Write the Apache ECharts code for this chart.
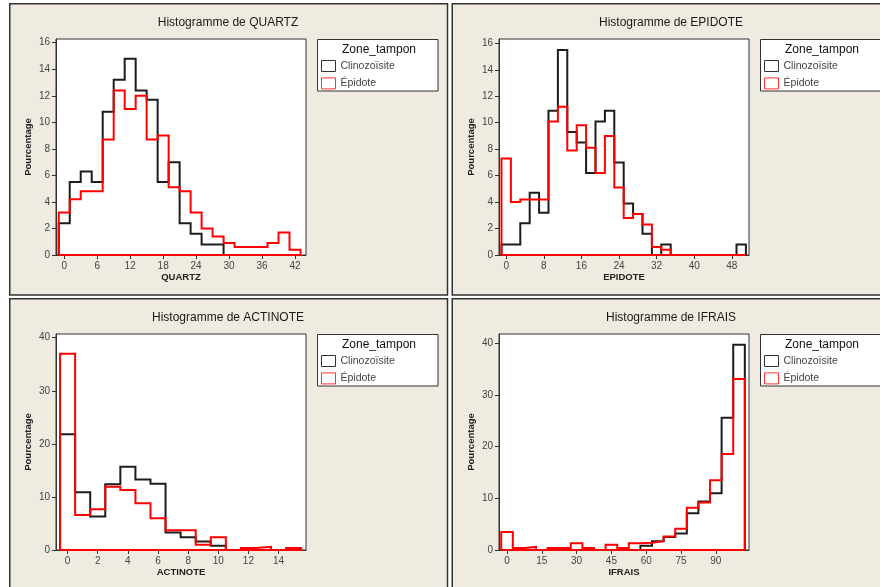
<!DOCTYPE html>
<html>
<head>
<meta charset="utf-8">
<script src="https://cdn.jsdelivr.net/npm/echarts@6/dist/echarts.min.js"></script>
<style>
  html, body { margin: 0; padding: 0; background: #ffffff; }
  #chart { width: 880px; height: 587px; }
</style>
</head>
<body>
<div id="chart"></div>
<script>
// Zone names (legend entries)
const zoneNames = ['Clinozoïsite', 'Épidote'];
const legendTitle = 'Zone_tampon';

// QUARTZ: bin centres (width 2) and percentages per zone
const quartzCenters = [0, 2, 4, 6, 8, 10, 12, 14, 16, 18, 20, 22, 24, 26, 28, 30, 32, 34, 36, 38, 40, 42];
const quartzClino = [2.4, 5.5, 6.3, 5.5, 10.8, 13.2, 14.8, 12.4, 11.7, 5.5, 7.0, 2.4, 1.6, 0.8, 0.8, 0, 0, 0, 0, 0, 0, 0];
const quartzEpi = [3.2, 4.2, 4.8, 4.8, 8.7, 12.4, 11.0, 12.0, 8.7, 9.0, 5.1, 4.8, 3.2, 2.0, 1.4, 0.9, 0.6, 0.6, 0.6, 0.9, 1.7, 0.4];
const quartzXTicks = [0, 6, 12, 18, 24, 30, 36, 42];
const quartzYTicks = [0, 2, 4, 6, 8, 10, 12, 14, 16];

// EPIDOTE: bin centres (width 2)
const epidoteCenters = [0, 2, 4, 6, 8, 10, 12, 14, 16, 18, 20, 22, 24, 26, 28, 30, 32, 34, 36, 38, 40, 42, 44, 46, 48, 50];
const epidoteClino = [0.8, 0.8, 2.4, 4.7, 3.2, 10.9, 15.5, 9.3, 8.5, 6.2, 10.1, 10.9, 7.0, 3.9, 3.1, 1.6, 0, 0.8, 0, 0, 0, 0, 0, 0, 0, 0.8];
const epidoteEpi = [7.3, 4.0, 4.2, 4.2, 4.2, 10.1, 11.2, 7.9, 9.8, 8.1, 6.2, 9.0, 5.1, 2.8, 3.1, 2.3, 0.6, 0.4, 0, 0, 0, 0, 0, 0, 0, 0];
const epidoteXTicks = [0, 8, 16, 24, 32, 40, 48];
const epidoteYTicks = [0, 2, 4, 6, 8, 10, 12, 14, 16];

// ACTINOTE: bin centres (width 1)
const actinoteCenters = [0, 1, 2, 3, 4, 5, 6, 7, 8, 9, 10, 11, 12, 13, 14, 15];
const actinoteClino = [21.8, 10.9, 6.3, 12.4, 15.7, 13.3, 12.5, 3.3, 2.4, 1.6, 0.8, 0, 0, 0, 0, 0];
const actinoteEpi = [37.0, 6.6, 7.7, 11.9, 11.3, 8.8, 6.0, 3.7, 3.7, 1.0, 2.4, 0, 0.4, 0.6, 0, 0.4];
const actinoteXTicks = [0, 2, 4, 6, 8, 10, 12, 14];
const actinoteYTicks = [0, 10, 20, 30, 40];

// IFRAIS: bin centres (width 5)
const ifraisCenters = [0, 5, 10, 15, 20, 25, 30, 35, 40, 45, 50, 55, 60, 65, 70, 75, 80, 85, 90, 95, 100];
const ifraisClino = [0, 0, 0, 0, 0, 0, 0, 0, 0, 0, 0, 0, 0.8, 1.7, 2.5, 3.2, 7.1, 9.4, 11.0, 25.6, 39.7];
const ifraisEpi = [3.5, 0.4, 0.6, 0, 0.4, 0.4, 1.3, 0.4, 0, 1.0, 0.4, 1.3, 1.4, 1.7, 2.6, 4.1, 8.2, 9.2, 13.5, 18.6, 33.1];
const ifraisXTicks = [0, 15, 30, 45, 60, 75, 90];
const ifraisYTicks = [0, 10, 20, 30, 40];

const FONT = 'Liberation Sans, Arial, sans-serif';
const PANEL_BG = '#EFEBE1';
const FRAME = '#333333';
const zoneColors = ['#1c1c1c', '#ff0000'];

// Closed step outline of a histogram: up at the first edge, across each bin top, back along the base.
function stepOutline(centers, width, heights) {
  const half = width / 2;
  const pts = [[centers[0] - half, 0]];
  centers.forEach((c, i) => pts.push([c - half, heights[i]]));
  pts.push([centers[centers.length - 1] + half, 0]);
  pts.push([centers[0] - half, 0]);
  return pts;
}

const panels = [
  { name: 'QUARTZ', dx: 0, dy: 0, binWidth: 2, centers: quartzCenters, clino: quartzClino, epi: quartzEpi,
    xMin: -1.5, xMax: 44, yMax: 16.28, xTicks: quartzXTicks, yTicks: quartzYTicks },
  { name: 'EPIDOTE', dx: 443, dy: 0, binWidth: 2, centers: epidoteCenters, clino: epidoteClino, epi: epidoteEpi,
    xMin: -1.53, xMax: 51.66, yMax: 16.33, xTicks: epidoteXTicks, yTicks: epidoteYTicks },
  { name: 'ACTINOTE', dx: 0, dy: 295, binWidth: 1, centers: actinoteCenters, clino: actinoteClino, epi: actinoteEpi,
    xMin: -0.77, xMax: 15.82, yMax: 40.7, xTicks: actinoteXTicks, yTicks: actinoteYTicks },
  { name: 'IFRAIS', dx: 443, dy: 295, binWidth: 5, centers: ifraisCenters, clino: ifraisClino, epi: ifraisEpi,
    xMin: -3.45, xMax: 104.3, yMax: 41.8, xTicks: ifraisXTicks, yTicks: ifraisYTicks }
];

const grid = [], xAxis = [], yAxis = [], series = [], title = [], legend = [];
const graphics = [];

// Panel frames
[[9.75, 3.75, 437.75, 291.25], [452.25, 3.75, 440, 291.25],
 [9.75, 298.75, 437.75, 300], [452.25, 298.75, 440, 300]].forEach(r => {
  graphics.push({ type: 'rect', z: -10, silent: true,
    shape: { x: r[0], y: r[1], width: r[2], height: r[3] },
    style: { fill: PANEL_BG, stroke: FRAME, lineWidth: 1.5 } });
});

panels.forEach((p, i) => {
  grid.push({ left: 56 + p.dx, top: 39 + p.dy, width: 250, height: 216,
    show: true, backgroundColor: '#ffffff', borderColor: FRAME, borderWidth: 1, containLabel: false });

  xAxis.push({
    type: 'value', gridIndex: i, min: p.xMin, max: p.xMax,
    name: p.name, nameLocation: 'middle', nameGap: 17,
    nameTextStyle: { fontFamily: FONT, fontSize: 9.5, fontWeight: 'bold', color: '#222' },
    axisLine: { show: true, onZero: false, lineStyle: { color: FRAME, width: 1 } },
    axisTick: { show: true, length: 4, lineStyle: { color: FRAME }, customValues: p.xTicks },
    axisLabel: { fontFamily: FONT, fontSize: 10, color: '#444', margin: 6, customValues: p.xTicks },
    splitLine: { show: false }
  });

  yAxis.push({
    type: 'value', gridIndex: i, min: 0, max: p.yMax,
    name: 'Pourcentage', nameLocation: 'middle', nameGap: 23,
    nameTextStyle: { fontFamily: FONT, fontSize: 9.5, fontWeight: 'bold', color: '#222' },
    axisLine: { show: true, onZero: false, lineStyle: { color: FRAME, width: 1 } },
    axisTick: { show: true, length: 4, lineStyle: { color: FRAME }, customValues: p.yTicks },
    axisLabel: { fontFamily: FONT, fontSize: 10, color: '#444', margin: 6, customValues: p.yTicks },
    splitLine: { show: false }
  });

  [p.clino, p.epi].forEach((vals, k) => {
    series.push({
      type: 'line', name: zoneNames[k], xAxisIndex: i, yAxisIndex: i,
      data: stepOutline(p.centers, p.binWidth, vals),
      step: 'end', showSymbol: false, symbol: 'none', clip: false,
      z: 2 + k, silent: true, animation: false,
      itemStyle: { color: zoneColors[k] },
      lineStyle: { color: zoneColors[k], width: 2, join: 'miter' }
    });
  });

  title.push({
    text: 'Histogramme de ' + p.name, left: 228 + p.dx, top: 17 + p.dy, textAlign: 'center',
    padding: 0,
    textStyle: { fontFamily: FONT, fontSize: 12, fontWeight: 'normal', color: '#1a1a1a' }
  });

  // Legend box with its header
  graphics.push({ type: 'rect', z: 1, silent: true,
    shape: { x: 317.5 + p.dx, y: 39.5 + p.dy, width: 120.5, height: 51.5 },
    style: { fill: '#ffffff', stroke: FRAME, lineWidth: 1 } });
  graphics.push({ type: 'text', z: 5, silent: true,
    x: 379 + p.dx, y: 49.5 + p.dy,
    style: { text: legendTitle, fontFamily: FONT, fontSize: 12, fill: '#111',
      align: 'center', verticalAlign: 'middle' } });

  legend.push({
    orient: 'vertical', left: 321 + p.dx, top: 60 + p.dy, padding: 0,
    itemWidth: 14, itemHeight: 11, itemGap: 5.4, selectedMode: false, icon: 'rect',
    textStyle: { fontFamily: FONT, fontSize: 10.5, color: '#444' },
    data: zoneNames.map((n, k) => ({
      name: n,
      itemStyle: { color: 'rgba(0,0,0,0)', borderColor: k === 0 ? '#333333' : '#ff3030', borderWidth: 1 }
    }))
  });
});

const chart = echarts.init(document.getElementById('chart'), null, { renderer: 'canvas' });
chart.setOption({
  backgroundColor: '#ffffff',
  animation: false,
  title, grid, xAxis, yAxis, series, legend,
  graphic: graphics
});
</script>
</body>
</html>
